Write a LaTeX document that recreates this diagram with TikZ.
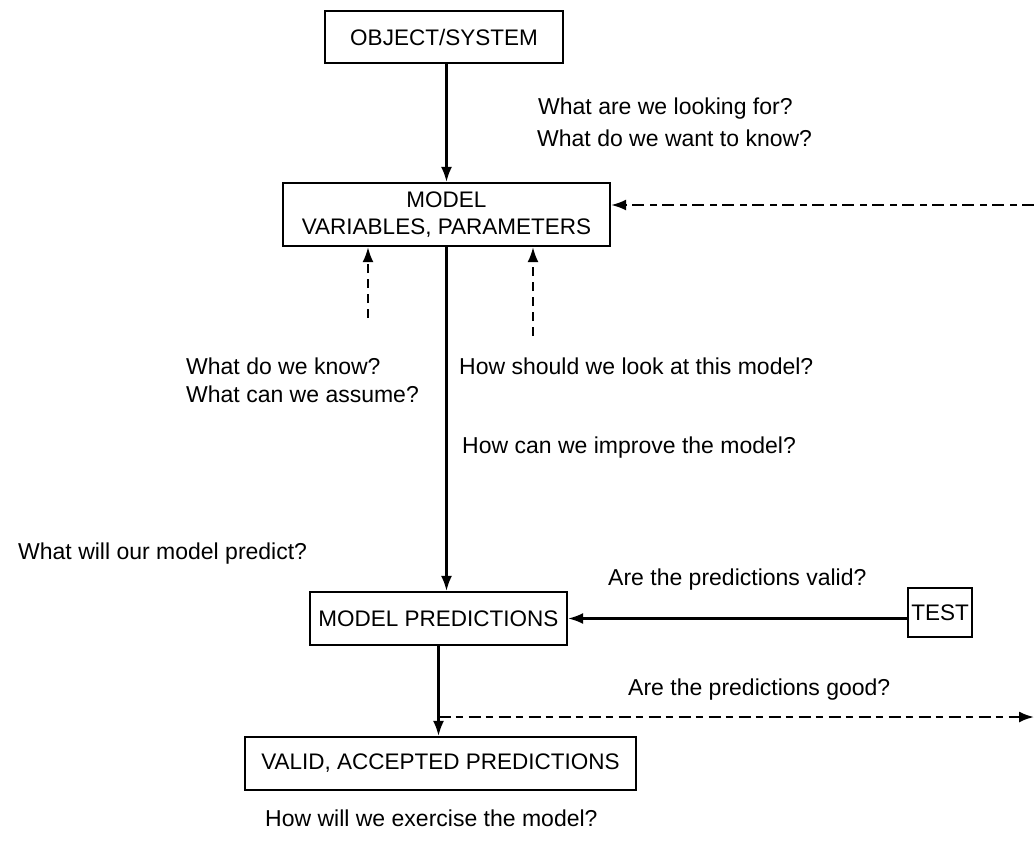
\documentclass[tikz,border=0pt]{standalone}
\usepackage{fontspec}
\setmainfont{Liberation Sans}
\usetikzlibrary{arrows.meta}
\begin{document}
\begin{tikzpicture}[x=1pt,y=-1pt,
  box/.style={draw,line width=2.2pt,inner sep=0pt,font=\fontsize{22.5}{27}\selectfont,align=center},
  lbl/.style={font=\fontsize{23}{27}\selectfont,anchor=west,inner sep=0pt},
  arr/.style={line width=2.2pt,-{Latex[length=15pt,width=11pt]}},
  dd/.style={line width=2.2pt,dash pattern=on 12pt off 5pt on 7pt off 6pt,-{Latex[length=15pt,width=11pt]}},
  dsh/.style={line width=2.2pt,dash pattern=on 9pt off 6pt,-{Latex[length=15pt,width=11pt]}}]
\useasboundingbox (0,0) rectangle (1034,857);
\node[box,minimum width=238pt,minimum height=52pt] (obj) at (444,37) {OBJECT/SYSTEM};
\node[box,minimum width=327pt,minimum height=63pt] (model) at (446.5,214.5) {MODEL\\VARIABLES, PARAMETERS};
\node[box,minimum width=257pt,minimum height=53pt] (pred) at (438.5,618.5) {MODEL PREDICTIONS};
\node[box,minimum width=64pt,minimum height=49pt] (test) at (940,612.5) {TEST};
\node[box,minimum width=391pt,minimum height=53pt] (valid) at (440.5,763.5) {VALID, ACCEPTED PREDICTIONS};
\coordinate (rin) at (1034,205);
\coordinate (rout) at (1034,717);
\coordinate (u1) at (368,318);
\coordinate (u2) at (533,336);
\draw[arr] (obj.south -| model.north) -- (model.north);
\draw[arr] (model.south) -- (model.south |- pred.north);
\draw[arr] (test.west |- pred.east) -- (pred.east);
\draw[arr] (pred.south) -- (pred.south |- valid.north);
\draw[dd] (rin) -- (rin -| model.east);
\draw[dd] (pred.south |- rout) -- (rout);
\draw[dsh] (u1) -- (u1 |- model.south);
\draw[dsh] (u2) -- (u2 |- model.south);
\node[lbl] (t1) at (538,109) {What are we looking for?};
\node[lbl] (t2) at (537,138) {What do we want to know?};
\node[lbl] (t3) at (186,366) {What do we know?};
\node[lbl] (t4) at (186,394) {What can we assume?};
\node[lbl] (t5) at (459,366) {How should we look at this model?};
\node[lbl] (t6) at (462,448) {How can we improve the model?};
\node[lbl] (t7) at (18,554) {What will our model predict?};
\node[lbl] (t8) at (608,580) {Are the predictions valid?};
\node[lbl] (t9) at (628,690) {Are the predictions good?};
\node[lbl] (t10) at (265,818) {How will we exercise the model?};
\end{tikzpicture}
\end{document}
